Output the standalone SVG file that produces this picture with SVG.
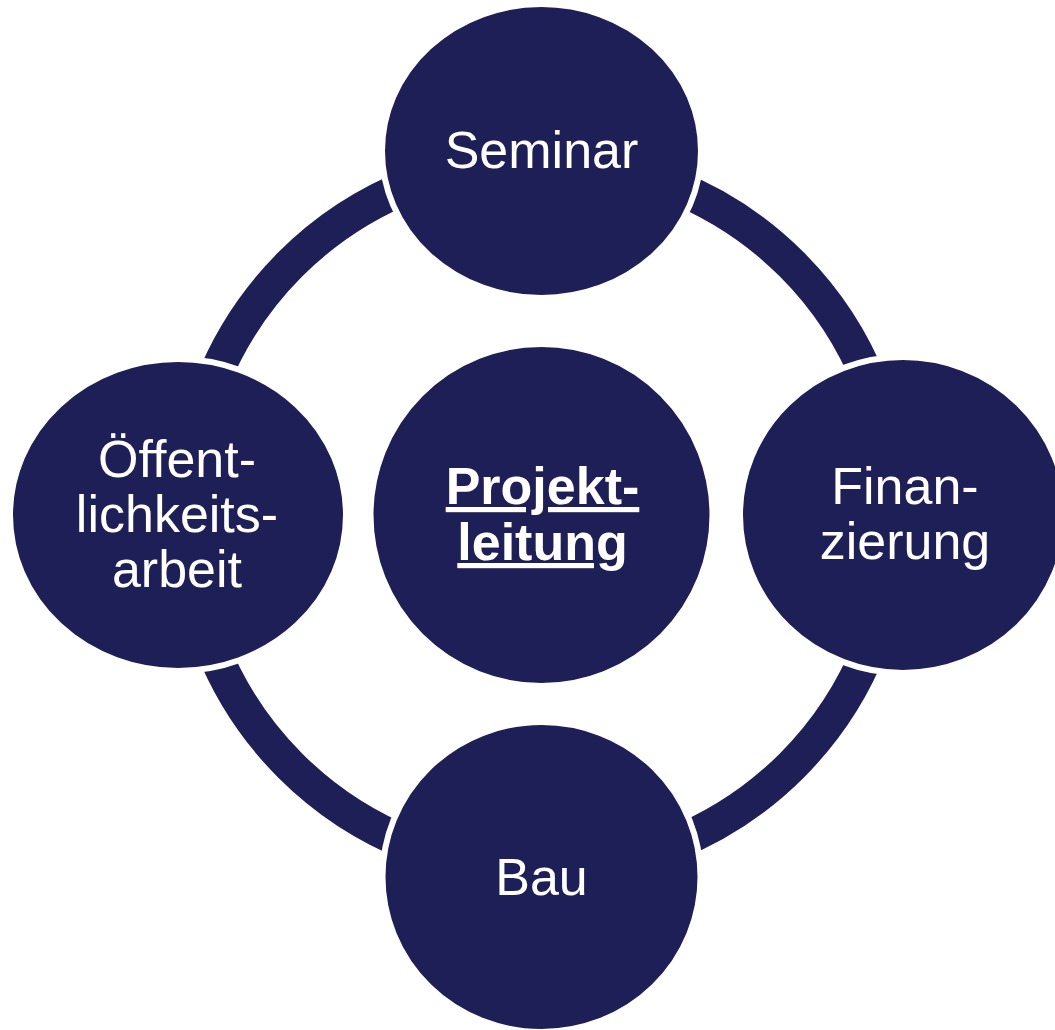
<svg xmlns="http://www.w3.org/2000/svg" width="1055" height="1030" viewBox="0 0 1055 1030">
  <style>
    .node { fill: #1f1f57; stroke: #ffffff; stroke-width: 6; }
    .lbl { font-family: "Liberation Sans", Arial, sans-serif; font-size: 52px; fill: #ffffff; text-anchor: middle; }
    .bold { font-weight: bold; text-decoration: underline; }
  </style>
  <rect width="1055" height="1030" fill="#ffffff"/>
  <g id="connectors">
    <circle cx="541" cy="515" r="354.5" fill="none" stroke="#1f1f57" stroke-width="34"/>
  </g>
  <g id="node-projektleitung">
    <circle class="node" cx="541.5" cy="515" r="171"/>
    <text class="lbl bold" x="542.5" y="504">Projekt-</text>
    <text class="lbl bold" x="542.5" y="560">leitung</text>
  </g>
  <g id="node-seminar">
    <ellipse class="node" cx="541.5" cy="151" rx="159.5" ry="147"/>
    <text class="lbl" x="541.5" y="168">Seminar</text>
  </g>
  <g id="node-finanzierung">
    <ellipse class="node" cx="903" cy="515" rx="163" ry="158"/>
    <text class="lbl" x="905" y="504">Finan-</text>
    <text class="lbl" x="905" y="559">zierung</text>
  </g>
  <g id="node-bau">
    <ellipse class="node" cx="541.5" cy="877" rx="159" ry="155"/>
    <text class="lbl" x="541.5" y="895">Bau</text>
  </g>
  <g id="node-oeffentlichkeitsarbeit">
    <ellipse class="node" cx="178" cy="515" rx="168" ry="156"/>
    <text class="lbl" x="177" y="477">Öffent-</text>
    <text class="lbl" x="177" y="532">lichkeits-</text>
    <text class="lbl" x="177" y="587">arbeit</text>
  </g>
</svg>
